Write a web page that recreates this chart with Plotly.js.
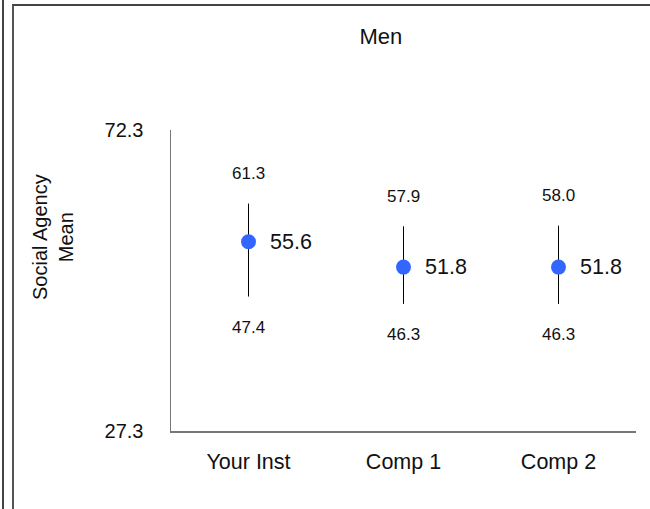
<!DOCTYPE html>
<html>
<head>
<meta charset="utf-8">
<script src="https://cdn.plot.ly/plotly-3.0.1.min.js"></script>
<style>
  html, body { margin:0; padding:0; background:#fff; }
  #wrap { position:relative; width:650px; height:509px; overflow:hidden; }
  #chart { position:absolute; left:0; top:0; width:650px; height:509px; }
  .frameA { position:absolute; left:2px; top:0; width:0; height:509px; border-left:2px solid #444; pointer-events:none; }
  .frameB { position:absolute; left:12px; top:4px; width:660px; height:520px; border-left:2px solid #555; border-top:2px solid #444; pointer-events:none; }
</style>
</head>
<body>
<div id="wrap">
  <div id="chart"></div>
  <div class="frameA"></div>
  <div class="frameB"></div>
</div>
<script>
// ---- data ----
const categories = ["Your Inst", "Comp 1", "Comp 2"];
const means      = [55.6, 51.8, 51.8];
const upper      = [61.3, 57.9, 58.0];
const lower      = [47.4, 46.3, 46.3];
const yTickVals  = [27.3, 72.3];
const yTickText  = ["27.3", "72.3"];
const chartTitle = "Men";
const yTitle     = "Social Agency<br>Mean";

const FONT = "'Liberation Sans Narrow', 'Arial Narrow', 'Liberation Sans', Arial, sans-serif";
const TXT = "#111";

const trace = {
  type: "scatter",
  mode: "markers",
  x: categories,
  y: means,
  marker: { color: "#3366ff", size: 15 },
  error_y: {
    type: "data",
    symmetric: false,
    array: upper.map((u, i) => u - means[i]),
    arrayminus: lower.map((l, i) => means[i] - l),
    color: "#000",
    thickness: 1,
    width: 0
  },
  hoverinfo: "skip",
  showlegend: false
};

const annotations = [];
categories.forEach((c, i) => {
  annotations.push({ x: c, y: means[i], text: means[i].toFixed(1), showarrow: false,
    xanchor: "left", yanchor: "middle", xshift: 19, font: { family: FONT, size: 21.5, color: TXT } });
  annotations.push({ x: c, y: upper[i], text: upper[i].toFixed(1), showarrow: false,
    xanchor: "center", yanchor: "middle", yshift: 30, font: { family: FONT, size: 17, color: TXT } });
  annotations.push({ x: c, y: lower[i], text: lower[i].toFixed(1), showarrow: false,
    xanchor: "center", yanchor: "middle", yshift: -31, font: { family: FONT, size: 17, color: TXT } });
});
// y-axis title (placed as in the reference, above the plot's vertical middle)
annotations.push({ xref: "paper", yref: "paper", x: (53 - 171) / 465, y: (431 - 237) / 301,
  text: yTitle, textangle: -90, showarrow: false, xanchor: "center", yanchor: "middle",
  font: { family: FONT, size: 20, color: TXT } });

const layout = {
  width: 650, height: 509,
  margin: { l: 171, r: 14, t: 130, b: 78 },
  paper_bgcolor: "#fff", plot_bgcolor: "#fff",
  font: { family: FONT, color: TXT },
  title: { text: chartTitle, xref: "container", x: 0.586, xanchor: "center",
           yref: "container", y: 1 - 36/509, yanchor: "middle",
           font: { family: FONT, size: 22, color: TXT } },
  xaxis: {
    type: "category", range: [-0.5, 2.5],
    showgrid: false, zeroline: false,
    showline: true, linecolor: "#777", linewidth: 1.5,
    ticks: "", ticklabelstandoff: 11,
    tickfont: { family: FONT, size: 21.5, color: TXT },
    fixedrange: true
  },
  yaxis: {
    range: [27.3, 72.3],
    tickvals: yTickVals, ticktext: yTickText,
    showgrid: false, zeroline: false,
    showline: true, linecolor: "#777", linewidth: 1.5,
    ticks: "", ticklabelstandoff: 22,
    tickfont: { family: FONT, size: 20, color: TXT },
    fixedrange: true
  },
  annotations: annotations,
  showlegend: false
};

Plotly.newPlot("chart", [trace], layout, { displayModeBar: false, staticPlot: true });
</script>
</body>
</html>
